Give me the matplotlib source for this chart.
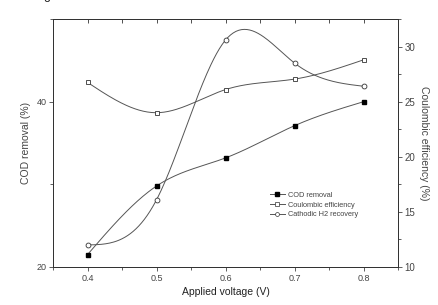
import numpy as np
import matplotlib
matplotlib.use("Agg")
import matplotlib.pyplot as plt
from matplotlib.ticker import MultipleLocator
from matplotlib.lines import Line2D

plt.rcParams['font.family'] = ['Liberation Sans', 'DejaVu Sans']

voltage = [0.4, 0.5, 0.6, 0.7, 0.8]
cod_removal = [21.5, 29.8, 33.2, 37.1, 40.0]          # left axis (%)
coulombic_eff = [26.75, 24.0, 26.1, 27.05, 28.8]     # right axis (%)
h2_recovery = [12.0, 16.1, 30.6, 28.5, 26.4]         # right axis (%)

labels = ["COD removal", "Coulombic efficiency", "Cathodic H2 recovery"]
xtick_labels = ['0.4', '0.5', '0.6', '0.7', '0.8']


def natural_spline(x, y, n=200):
    x = np.asarray(x, float)
    y = np.asarray(y, float)
    k = len(x)
    h = np.diff(x)
    A = np.zeros((k, k))
    b = np.zeros(k)
    A[0, 0] = 1
    A[-1, -1] = 1
    for i in range(1, k - 1):
        A[i, i - 1] = h[i - 1]
        A[i, i] = 2 * (h[i - 1] + h[i])
        A[i, i + 1] = h[i]
        b[i] = 6 * ((y[i + 1] - y[i]) / h[i] - (y[i] - y[i - 1]) / h[i - 1])
    M = np.linalg.solve(A, b)
    xs = np.linspace(x[0], x[-1], n)
    idx = np.clip(np.searchsorted(x, xs) - 1, 0, k - 2)
    x0 = x[idx]; x1 = x[idx + 1]; hh = x1 - x0
    ys = (M[idx] * (x1 - xs) ** 3 / (6 * hh) + M[idx + 1] * (xs - x0) ** 3 / (6 * hh)
          + (y[idx] / hh - M[idx] * hh / 6) * (x1 - xs)
          + (y[idx + 1] / hh - M[idx + 1] * hh / 6) * (xs - x0))
    return xs, ys


line_c = '#555555'
text_c = '#444444'

fig = plt.figure(figsize=(4.38, 3.05), dpi=100)
ax = fig.add_axes([0.121, 0.1246, 0.788, 0.813])
ax2 = ax.twinx()

ms = 3.2
xs, ys = natural_spline(voltage, cod_removal)
ax.plot(xs, ys, color=line_c, lw=0.7)
ax.plot(voltage, cod_removal, 's', color='black', ms=ms, mec='black')

xs, ys = natural_spline(voltage, coulombic_eff)
ax2.plot(xs, ys, color=line_c, lw=0.7)
ax2.plot(voltage, coulombic_eff, 's', mfc='white', mec='#333333', ms=ms, mew=0.6)

xs, ys = natural_spline(voltage, h2_recovery)
ax2.plot(xs, ys, color=line_c, lw=0.7)
ax2.plot(voltage, h2_recovery, 'o', mfc='white', mec='#333333', ms=ms + 0.3, mew=0.6)

ax.set_xlim(0.35, 0.85)
ax.set_ylim(20, 50)
ax2.set_ylim(10, 32.5)

ax.set_xticks(voltage)
ax.set_xticklabels(xtick_labels)
ax.xaxis.set_minor_locator(MultipleLocator(0.05))
ax.set_yticks([20, 40])
ax.yaxis.set_minor_locator(MultipleLocator(10))
ax2.set_yticks([10, 15, 20, 25, 30])
ax2.yaxis.set_minor_locator(MultipleLocator(2.5))

ax.tick_params(axis='x', which='both', direction='out', labelsize=6.5,
               colors=text_c, length=3, width=0.6, pad=2)
ax.tick_params(axis='x', which='minor', length=2)
ax.tick_params(axis='y', which='both', direction='out', labelsize=6.5, colors=text_c,
               length=3, width=0.6, pad=1.5)
ax.tick_params(axis='y', which='minor', length=2)
ax2.tick_params(axis='y', which='both', direction='out', labelsize=7, colors=text_c,
                length=3, width=0.6, pad=1.5)
ax2.tick_params(axis='y', which='minor', length=2)

top = ax.secondary_xaxis('top')
top.set_xticks(voltage)
top.set_xticklabels([])
top.xaxis.set_minor_locator(MultipleLocator(0.05))
top.tick_params(axis='x', which='both', direction='in', length=3, width=0.6,
                colors='#333333')
top.tick_params(axis='x', which='minor', length=3)
top.spines['top'].set_color('#333333')
top.spines['top'].set_linewidth(0.7)

for a in (ax, ax2):
    for s in a.spines.values():
        s.set_color('#333333')
        s.set_linewidth(0.7)

ax.set_xlabel('Applied voltage (V)', fontsize=7.5, color='#222222', labelpad=3)
ax.set_ylabel('COD removal (%)', fontsize=7.5, color=text_c, labelpad=4)
ax2.set_ylabel('Coulombic efficiency (%)', fontsize=7.5, color=text_c, rotation=270,
               labelpad=10)

handles = [
    Line2D([], [], color=line_c, lw=0.7, marker='s', mfc='black', mec='black', ms=2.5),
    Line2D([], [], color=line_c, lw=0.7, marker='s', mfc='white', mec='#333333', ms=2.5, mew=0.5),
    Line2D([], [], color=line_c, lw=0.7, marker='o', mfc='white', mec='#333333', ms=2.8, mew=0.5),
]
leg = ax2.legend(handles, labels, loc='upper left', bbox_to_anchor=(0.62, 0.315),
                 frameon=False, fontsize=5.3, handlelength=2.0, handletextpad=0.4,
                 labelspacing=0.35, borderaxespad=0)
for t in leg.get_texts():
    t.set_color(text_c)

fig.text(0.108, 1.012, 'g', fontsize=9, color='#222222', ha='center', va='center')

fig.savefig('out.png', dpi=100)
